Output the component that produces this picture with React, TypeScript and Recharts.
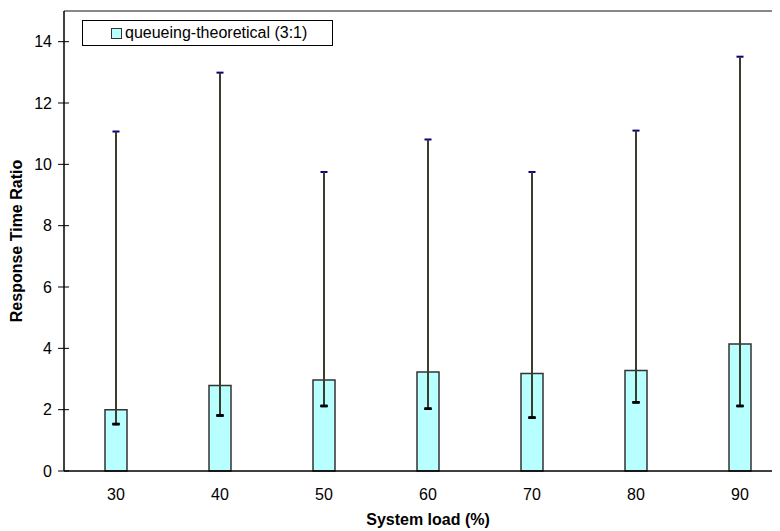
import { Bar, BarChart, ErrorBar, Legend, ReferenceLine, XAxis, YAxis } from "recharts"

const loads = ["30", "40", "50", "60", "70", "80", "90"]
const ratio = [2.0, 2.79, 2.97, 3.23, 3.18, 3.28, 4.14]
const lows = [1.53, 1.81, 2.12, 2.03, 1.74, 2.24, 2.12]
const highs = [11.07, 12.99, 9.75, 10.81, 9.75, 11.1, 13.51]
const yTicks = [0, 2, 4, 6, 8, 10, 12, 14]

const data = loads.map((load, i) => ({
  load,
  ratio: ratio[i],
  err: [ratio[i] - lows[i], highs[i] - ratio[i]],
  // both ends at the low value, so only the black bottom cap shows
  errLow: [ratio[i] - lows[i], lows[i] - ratio[i]],
}))

const font = "'Liberation Sans', Arial, sans-serif"

function YTick(props: any) {
  const { x, y, payload } = props
  return (
    <g>
      <line x1={x + 12} x2={x + 17} y1={y} y2={y} stroke="#000" />
      <text x={x} y={y} dy={5.5} textAnchor="end" fontSize={16} fontFamily={font} fill="#000">
        {payload.value}
      </text>
    </g>
  )
}

function YTitle(props: any) {
  const { viewBox } = props
  const cx = viewBox.x + 16
  const cy = viewBox.y + viewBox.height / 2
  return (
    <text
      x={cx}
      y={cy}
      dy={5.5}
      transform={`rotate(-90 ${cx} ${cy})`}
      textAnchor="middle"
      fontSize={16}
      fontWeight="bold"
      fontFamily={font}
      fill="#000"
    >
      Response Time Ratio
    </text>
  )
}

function LegendBox() {
  return (
    <div
      style={{
        border: "1.5px solid #000",
        background: "#fff",
        width: 251,
        height: 26,
        boxSizing: "border-box",
        display: "flex",
        alignItems: "center",
        paddingLeft: 28,
        fontFamily: font,
        fontSize: 16,
        color: "#000",
      }}
    >
      <span
        style={{
          display: "inline-block",
          width: 9,
          height: 9,
          background: "#b8ffff",
          border: "1px solid #333",
          marginRight: 3,
        }}
      />
      queueing-theoretical (3:1)
    </div>
  )
}

export default function App() {
  return (
    <div style={{ width: 780, height: 531, overflow: "hidden", marginLeft: -8, marginTop: -8, background: "#fff" }}>
      <BarChart width={800} height={531} data={data} margin={{ top: 11, right: 8, left: 0, bottom: 0 }}>
        <ReferenceLine y={15} stroke="#888" strokeWidth={2} />
        <XAxis
          dataKey="load"
          height={60}
          tickLine={false}
          tickSize={6}
          tickMargin={12}
          axisLine={{ stroke: "#000", strokeWidth: 1.5 }}
          tick={{ fontSize: 16, fontFamily: font, fill: "#000" }}
          label={{
            value: "System load (%)",
            position: "insideBottom",
            offset: 6,
            fontSize: 16,
            fontWeight: "bold",
            fontFamily: font,
            fill: "#000",
          }}
        />
        <YAxis
          width={64}
          domain={[0, 15]}
          ticks={yTicks}
          tickSize={6}
          tickMargin={6}
          tickLine={{ stroke: "#000" }}
          axisLine={{ stroke: "#000", strokeWidth: 1.5 }}
          tick={<YTick />}
          label={<YTitle />}
        />
        <Legend
          verticalAlign="middle"
          align="center"
          content={<LegendBox />}
          wrapperStyle={{ left: 82, top: 20, width: "auto", height: "auto" }}
        />
        <Bar
          dataKey="ratio"
          name="queueing-theoretical (3:1)"
          fill="#b8ffff"
          stroke="#333"
          strokeWidth={1.5}
          barSize={22}
          isAnimationActive={false}
        >
          <ErrorBar dataKey="err" width={3.5} stroke="#000080" strokeWidth={2} isAnimationActive={false} />
          <ErrorBar dataKey="err" width={0} stroke="#3c3c2c" strokeWidth={2} isAnimationActive={false} />
          <ErrorBar dataKey="errLow" width={3.5} stroke="#000" strokeWidth={2.5} isAnimationActive={false} />
        </Bar>
      </BarChart>
    </div>
  )
}
